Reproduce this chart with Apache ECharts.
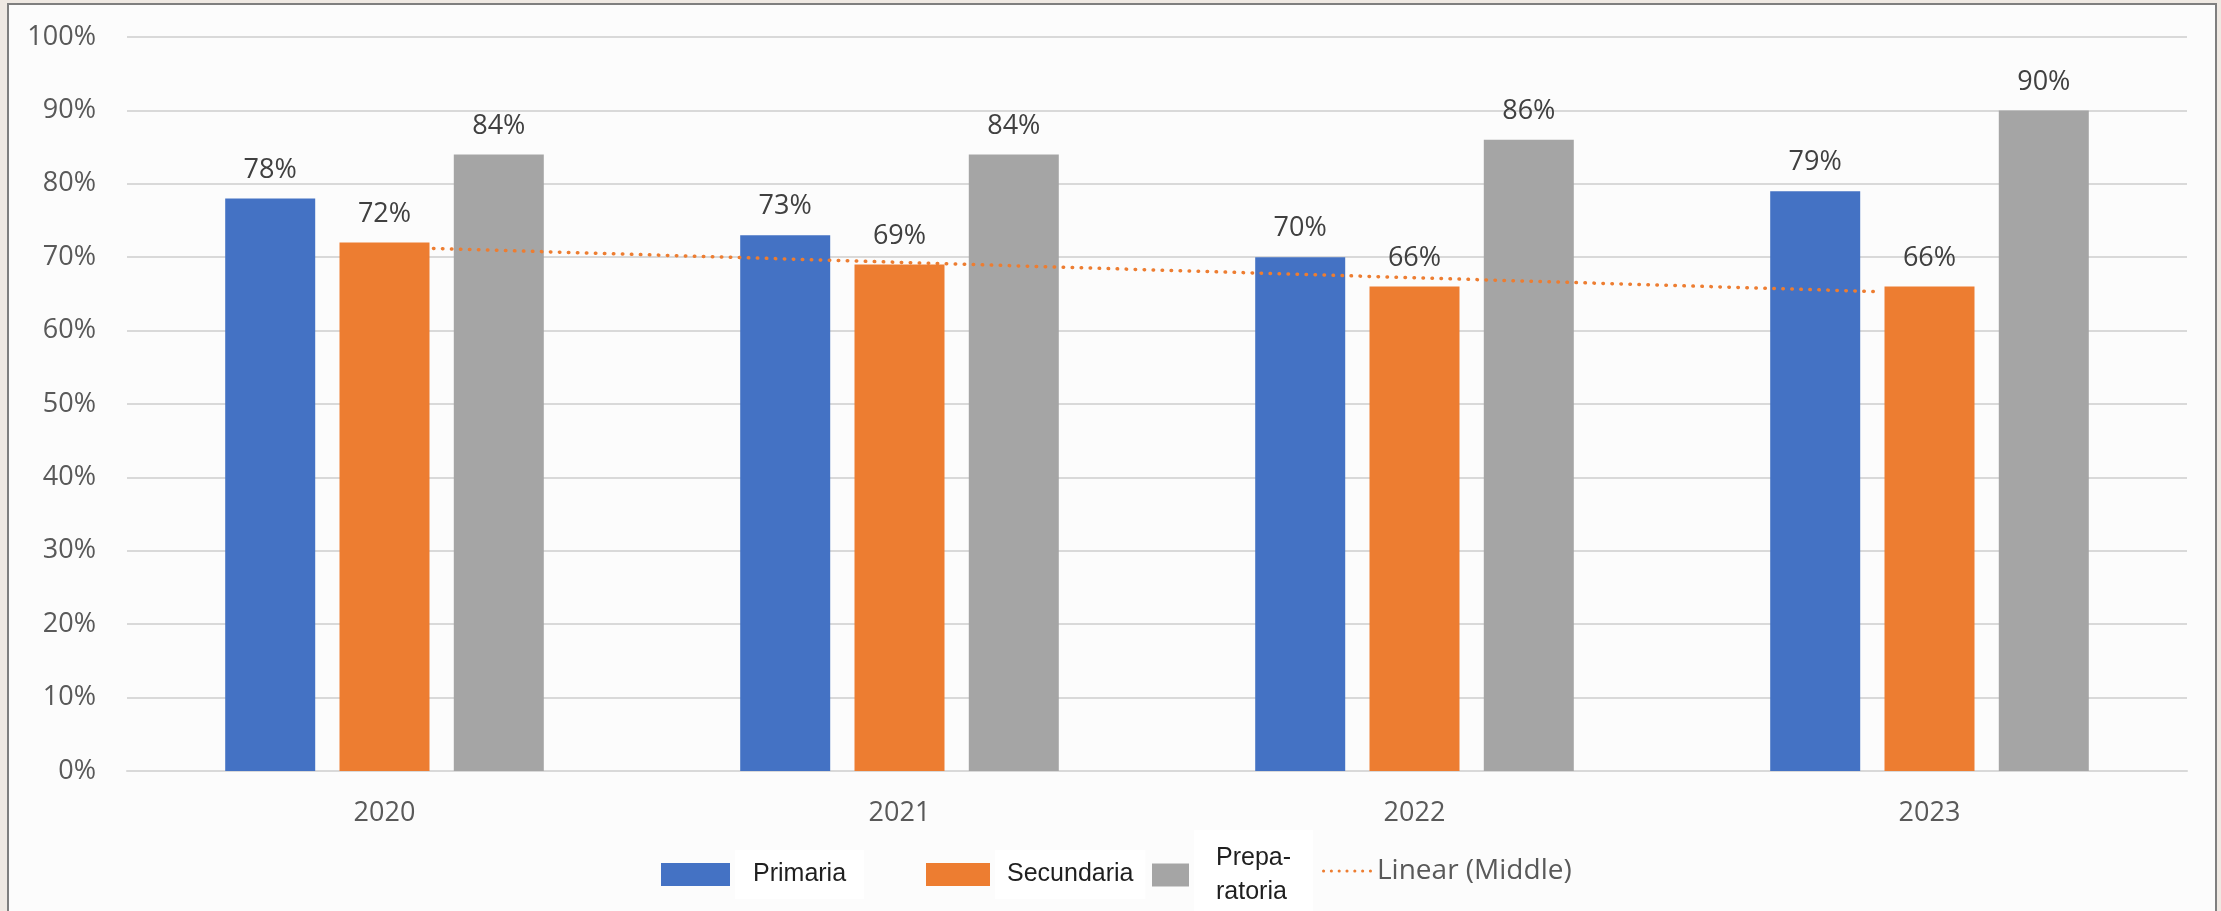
<!DOCTYPE html>
<html>
<head>
<meta charset="utf-8">
<script src="https://cdn.jsdelivr.net/npm/echarts@6/dist/echarts.min.js"></script>
<style>
  html, body { margin: 0; padding: 0; width: 2221px; height: 911px; overflow: hidden; background: #efe9e3; }
  #frame { position: absolute; left: 7px; top: 3px; width: 2206px; height: 920px; border: 2px solid #7f7f7f; background: #fcfcfc; }
  #chart { position: absolute; left: 0; top: 0; width: 2221px; height: 911px; }
</style>
</head>
<body>
<div id="frame"></div>
<div id="chart"></div>
<script>
const categories = ['2020', '2021', '2022', '2023'];
const primaria = [78, 73, 70, 79];
const secundaria = [72, 69, 66, 66];
const preparatoria = [84, 84, 86, 90];
// Linear trendline of Secundaria: endpoints [x in category units, value %]
const trendPoints = [[0.095, 71.2], [2.905, 65.3]];
const yTicks = [0, 10, 20, 30, 40, 50, 60, 70, 80, 90, 100];

// dotted legend icon: row of small dots
let dotPath = 'path://';
for (let k = 0; k < 7; k++) {
  const cx = 1.5 + 7.5 * k;
  dotPath += 'M' + (cx - 1.5) + ',1.5a1.5,1.5 0 1,0 3,0a1.5,1.5 0 1,0 -3,0Z';
}

const chart = echarts.init(document.getElementById('chart'));
const labelStyle = {
  show: true, position: 'top', distance: 15,
  formatter: p => p.value + '%',
  color: '#404040', fontFamily: 'Open Sans', fontSize: 27
};
const legendText = { fontFamily: 'Liberation Sans', fontSize: 25, color: '#1f1f1f',
  backgroundColor: '#ffffff', padding: [12, 18, 12, 18] };

chart.setOption({
  animation: false,
  backgroundColor: 'transparent',
  grid: { left: 127, right: 34, top: 37, bottom: 140, containLabel: false },
  xAxis: [
    { type: 'category', data: categories,
      axisLine: { show: true, lineStyle: { color: '#d9d9d9', width: 2 } },
      axisTick: { show: false },
      axisLabel: { color: '#595959', fontFamily: 'Open Sans', fontSize: 27, margin: 29 } },
    { type: 'value', min: -0.5, max: 3.5, show: false }
  ],
  yAxis: {
    type: 'value', min: yTicks[0], max: yTicks[yTicks.length - 1], interval: 10,
    axisLine: { show: false }, axisTick: { show: false },
    axisLabel: { color: '#595959', fontFamily: 'Open Sans', fontSize: 27, margin: 31, formatter: v => v + '%' },
    splitLine: { lineStyle: { color: '#d9d9d9', width: 2 } }
  },
  legend: [
    { data: ['Primaria'], left: 656, top: 845, itemWidth: 69, itemHeight: 23, itemGap: 0, icon: 'rect', textStyle: legendText },
    { data: ['Secundaria'], left: 921, top: 845, itemWidth: 64, itemHeight: 23, icon: 'rect', textStyle: Object.assign({}, legendText, { padding: [12, 12, 12, 12] }) },
    { data: ['Preparatoria'], left: 1147, top: 825, itemWidth: 37, itemHeight: 23, icon: 'rect',
      formatter: () => 'Prepa-\nratoria',
      textStyle: Object.assign({}, legendText, { lineHeight: 34, padding: [18, 22, 4, 22] }) },
    { data: [{ name: 'Linear (Middle)', icon: dotPath }], left: 1317, top: 852, itemWidth: 50, itemHeight: 20,
      itemStyle: { color: '#ED7D31' },
      textStyle: { fontFamily: 'Open Sans', fontSize: 28, color: '#595959', padding: [0, 0, 0, 0] } }
  ],
  series: [
    { name: 'Primaria', type: 'bar', data: primaria, barWidth: 90, barGap: '27%', itemStyle: { color: '#4472C4' }, label: labelStyle },
    { name: 'Secundaria', type: 'bar', data: secundaria, barWidth: 90, itemStyle: { color: '#ED7D31' }, label: labelStyle },
    { name: 'Preparatoria', type: 'bar', data: preparatoria, barWidth: 90, itemStyle: { color: '#A5A5A5' }, label: labelStyle },
    { name: 'Linear (Middle)', type: 'line', xAxisIndex: 1, data: trendPoints, symbol: 'none', z: 5,
      itemStyle: { color: '#ED7D31' },
      lineStyle: { color: '#ED7D31', width: 3.5, type: [0.5, 8.5], cap: 'round' } }
  ]
});
</script>
</body>
</html>
